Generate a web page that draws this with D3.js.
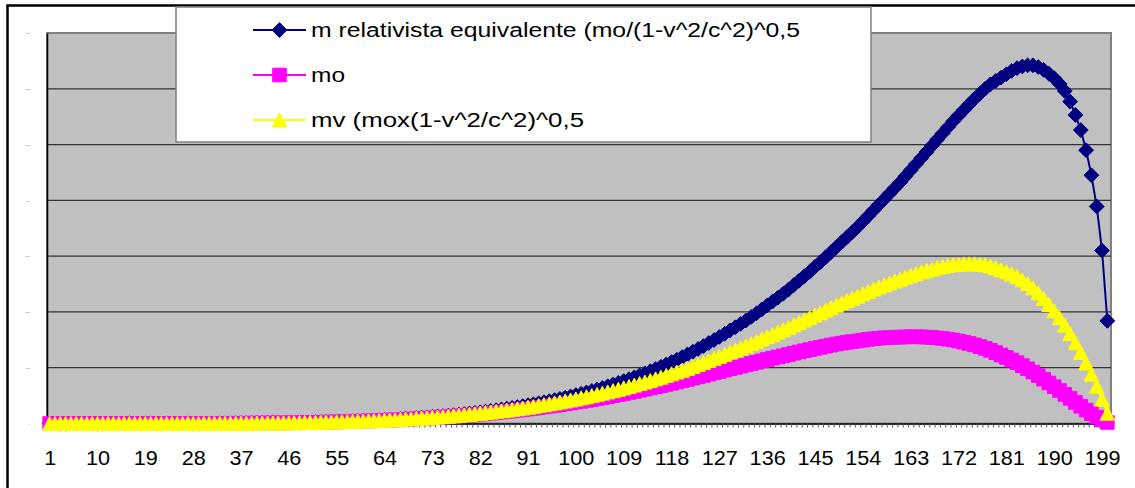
<!DOCTYPE html>
<html><head><meta charset="utf-8">
<script src="https://cdn.jsdelivr.net/npm/d3@7"></script>
<style>
body{margin:0;background:#fff}
svg{display:block}
text{font-family:"Liberation Sans",Arial,sans-serif}
</style>
</head><body>
<svg id="c" width="1135" height="488"></svg>
<script>
// ---------------- DATA ----------------
const categories = d3.range(1, 201);           // 1 .. 200
const labelCategories = [1,10,19,28,37,46,55,64,73,82,91,100,109,118,127,136,145,154,163,172,181,190,199];
const seriesNames = [
  "m relativista equivalente (mo/(1-v^2/c^2)^0,5",
  "mo",
  "mv (mox(1-v^2/c^2)^0,5"
];
const yTicks = [0,1,2,3,4,5,6,7];
const yTickLabels = ["0","1000","2000","3000","4000","5000","6000","7000"];

const relativista = [
0,0,0,0,0,0,0,0,0,0,
0,0,0,0,0.0001,0.0001,0.0002,0.0002,0.0003,0.0003,
0.0004,0.0005,0.0006,0.0007,0.0008,0.001,0.0012,0.0014,0.0016,0.0019,
0.0022,0.0025,0.0029,0.0033,0.0038,0.0043,0.0049,0.0056,0.0063,0.0071,
0.0079,0.0089,0.0099,0.011,0.0122,0.0135,0.015,0.0165,0.0182,0.020,
0.0219,0.024,0.0262,0.0286,0.0312,0.0339,0.0368,0.040,0.0433,0.0468,
0.0506,0.0545,0.0588,0.0633,0.068,0.073,0.0783,0.084,0.0899,0.0961,
0.1027,0.1096,0.1169,0.1246,0.1326,0.1411,0.15,0.1593,0.1691,0.1793,
0.19,0.2012,0.2129,0.2252,0.238,0.2513,0.2653,0.2798,0.295,0.3108,
0.3272,0.3443,0.3622,0.3807,0.40,0.42,0.441,0.463,0.485,0.508,
0.532,0.557,0.583,0.61,0.638,0.667,0.697,0.728,0.76,0.793,
0.827,0.863,0.899,0.937,0.976,1.016,1.058,1.101,1.145,1.191,
1.238,1.286,1.336,1.388,1.441,1.495,1.552,1.609,1.669,1.725,
1.785,1.845,1.91,1.975,2.045,2.115,2.185,2.255,2.325,2.40,
2.48,2.56,2.64,2.72,2.81,2.89,2.98,3.07,3.16,3.25,
3.34,3.43,3.52,3.62,3.72,3.82,3.92,4.02,4.12,4.22,
4.32,4.43,4.54,4.65,4.76,4.87,4.98,5.09,5.20,5.31,
5.42,5.52,5.62,5.72,5.82,5.91,6.00,6.08,6.14,6.20,
6.26,6.32,6.37,6.40,6.42,6.42,6.39,6.34,6.27,6.19,
6.09,5.96,5.77,5.53,5.26,4.90,4.45,3.89,3.10,1.84
];

const mo = [
0,0,0,0,0,0,0,0,0,0,
0,0,0,0,0.0001,0.0001,0.0002,0.0002,0.0003,0.0003,
0.0004,0.0005,0.0006,0.0007,0.0008,0.001,0.0012,0.0014,0.0016,0.0018,
0.0021,0.0024,0.0028,0.0031,0.0036,0.0041,0.0046,0.0052,0.0059,0.0068,
0.0076,0.0085,0.0095,0.0105,0.0116,0.0128,0.0142,0.0156,0.0171,0.0188,
0.0205,0.0224,0.0244,0.0265,0.0289,0.0313,0.0338,0.0367,0.0396,0.0426,
0.0459,0.0493,0.053,0.0569,0.0609,0.0651,0.0696,0.0744,0.0793,0.0844,
0.0899,0.0955,0.1015,0.1077,0.1141,0.1209,0.128,0.1353,0.143,0.1509,
0.1591,0.1677,0.1766,0.1859,0.1955,0.2053,0.2156,0.2262,0.2372,0.2485,
0.2601,0.2722,0.2847,0.2974,0.3106,0.3242,0.3383,0.3529,0.3673,0.3823,
0.3977,0.4136,0.4299,0.4467,0.4639,0.4815,0.4995,0.5178,0.5365,0.5555,
0.5748,0.595,0.6149,0.6356,0.6565,0.6776,0.6995,0.7216,0.7437,0.7665,
0.7894,0.8122,0.8357,0.8598,0.8837,0.9075,0.9324,0.9565,0.9815,1.0034,
1.0268,1.0493,1.0737,1.0972,1.1225,1.1467,1.1699,1.1921,1.2131,1.2357,
1.2596,1.2823,1.3038,1.3239,1.3476,1.3652,1.3861,1.4055,1.4235,1.44,
1.455,1.4685,1.4804,1.495,1.5078,1.519,1.5284,1.536,1.5419,1.546,
1.5483,1.5523,1.5544,1.5544,1.5524,1.5484,1.5423,1.5341,1.5239,1.5116,
1.4972,1.4779,1.4567,1.4335,1.4083,1.3787,1.3473,1.3118,1.2706,1.2278,
1.1838,1.1384,1.0898,1.0368,0.9814,0.9225,0.8591,0.7936,0.7263,0.659,
0.5909,0.5218,0.4502,0.3785,0.3093,0.2407,0.1754,0.1153,0.0614,0.0183
];

const mv = [
0,0,0,0,0,0,0,0,0,0,
0,0,0,0,0.0001,0.0001,0.0002,0.0002,0.0003,0.0003,
0.0004,0.0005,0.0006,0.0007,0.0008,0.001,0.0012,0.0014,0.0016,0.0019,
0.0022,0.0025,0.0028,0.0032,0.0037,0.0042,0.0048,0.0054,0.0061,0.0069,
0.0077,0.0087,0.0097,0.0107,0.0119,0.0131,0.0146,0.016,0.0177,0.0194,
0.0212,0.0232,0.0253,0.0276,0.030,0.0326,0.0353,0.0383,0.0414,0.0447,
0.0482,0.0518,0.0558,0.060,0.0644,0.069,0.0738,0.079,0.0844,0.0901,
0.0961,0.1023,0.1089,0.1159,0.123,0.1306,0.1386,0.1468,0.1555,0.1645,
0.1739,0.1837,0.1939,0.2046,0.2157,0.2271,0.2392,0.2516,0.2645,0.2779,
0.2917,0.3061,0.3211,0.3365,0.3525,0.369,0.3862,0.4042,0.4221,0.4407,
0.46,0.48,0.5006,0.522,0.544,0.5667,0.59,0.614,0.6385,0.6637,
0.6895,0.7166,0.7435,0.7717,0.8005,0.8297,0.8603,0.8913,0.9228,0.9555,
0.9886,1.022,1.0566,1.0924,1.1284,1.1648,1.203,1.2406,1.2799,1.3156,
1.3538,1.3914,1.4321,1.4721,1.5151,1.5574,1.5988,1.6395,1.6794,1.7221,
1.7674,1.8118,1.8553,1.8977,1.946,1.9863,2.0324,2.0773,2.1209,2.1633,
2.2045,2.2443,2.2828,2.3264,2.3683,2.4089,2.4477,2.4849,2.5205,2.5542,
2.5863,2.6224,2.6565,2.6885,2.7183,2.746,2.7714,2.7944,2.815,2.8331,
2.8486,2.8563,2.8613,2.8635,2.8629,2.8545,2.8432,2.8242,2.7931,2.7591,
2.7222,2.6823,2.6348,2.5759,2.5101,2.4336,2.3431,2.2431,2.134,2.0197,
1.897,1.7635,1.6117,1.4467,1.2756,1.0861,0.8834,0.6696,0.4362,0.1834
];

const colors = ["#000080", "#FF00FF", "#FFFF00"];
const seriesData = [relativista, mo, mv];

// ---------------- LAYOUT ----------------
const svg = d3.select("#c");
const plot = {l: 47, r: 1111, t: 33, b: 423.5};

// outer chart border (only left and top edges fall inside the picture)
svg.append("rect").attr("x", 7.5).attr("y", 5.5).attr("width", 1200).attr("height", 600)
  .attr("fill", "#fff").attr("stroke", "#000").attr("stroke-width", 2.5);

const x = d3.scalePoint().domain(categories).range([plot.l, 1110]).padding(0.5);
const xb = d3.scaleLinear().domain([0, categories.length]).range([plot.l, 1110]);
const y = d3.scaleLinear().domain([0, 7]).range([plot.b, plot.t]);

// plot area
svg.append("rect").attr("x", plot.l).attr("y", plot.t)
  .attr("width", plot.r - plot.l).attr("height", plot.b - plot.t)
  .attr("fill", "#C0C0C0").attr("stroke", "#808080").attr("stroke-width", 2);

// gridlines
svg.append("g").selectAll("line").data(yTicks.filter(d => d > 0 && d < 7)).join("line")
  .attr("x1", plot.l).attr("x2", plot.r)
  .attr("y1", d => y(d)).attr("y2", d => y(d))
  .attr("stroke", "#333").attr("stroke-width", 1.2);

// y axis (tiny labels)
const yAxis = svg.append("g").attr("transform", `translate(${plot.l},0)`)
  .call(d3.axisLeft(y).tickValues(yTicks).tickSize(0).tickPadding(17)
    .tickFormat((d, i) => yTickLabels[i]));
yAxis.select(".domain").attr("stroke", "#000").attr("stroke-width", 1.5);
yAxis.selectAll("text").attr("font-size", 2.2).attr("fill", "#777");

// x axis: tick marks between categories
const xTicks = svg.append("g").attr("transform", `translate(0,${plot.b})`)
  .call(d3.axisBottom(xb).tickValues(d3.range(0, categories.length + 1)).tickSize(4).tickFormat(""));
xTicks.select(".domain").attr("stroke", "#000").attr("stroke-width", 1.5);
xTicks.selectAll(".tick line").attr("stroke", "#555").attr("stroke-width", 1);

// x axis: labels
const xLab = svg.append("g").attr("transform", `translate(0,${plot.b})`)
  .call(d3.axisBottom(x).tickValues(labelCategories).tickSize(0).tickPadding(0));
xLab.select(".domain").remove();
xLab.selectAll("text").attr("font-size", 19.5).attr("fill", "#000")
  .attr("y", 42).attr("dy", 0).attr("transform", "scale(1.11,1)");

// markers
function markerPath(k) {
  if (k === 0) return "M0,-7.4L7.4,0L0,7.4L-7.4,0Z";
  if (k === 1) return "M-6.8,-6.8H6.8V6.8H-6.8Z";
  return "M0,-7L7.2,7H-7.2Z";
}

const line = d3.line().x(d => x(d.c)).y(d => y(d.v));
seriesData.forEach((vals, k) => {
  const pts = categories.map((c, i) => ({c, v: vals[i]}));
  const g = svg.append("g");
  g.append("path").attr("d", line(pts)).attr("fill", "none")
    .attr("stroke", colors[k]).attr("stroke-width", 2);
  g.selectAll("path.m").data(pts).join("path").attr("class", "m")
    .attr("d", markerPath(k))
    .attr("transform", d => `translate(${x(d.c)},${y(d.v)})`)
    .attr("fill", colors[k]).attr("stroke", colors[k]).attr("stroke-width", 1);
});

// legend
const leg = svg.append("g");
leg.append("rect").attr("x", 176).attr("y", 7).attr("width", 695).attr("height", 135)
  .attr("fill", "#fff").attr("stroke", "#808080").attr("stroke-width", 1.5);
const rowY = [30, 75, 120];
const textLen = [489, 34, 273];
seriesNames.forEach((name, k) => {
  leg.append("line").attr("x1", 253).attr("x2", 306).attr("y1", rowY[k]).attr("y2", rowY[k])
    .attr("stroke", colors[k]).attr("stroke-width", 2);
  leg.append("path").attr("d", markerPath(k)).attr("transform", `translate(279.5,${rowY[k]})`)
    .attr("fill", colors[k]).attr("stroke", colors[k]).attr("stroke-width", 1);
  leg.append("text").attr("x", 311).attr("y", rowY[k] + 6.8).attr("font-size", 19.5)
    .attr("textLength", textLen[k]).attr("lengthAdjust", "spacingAndGlyphs")
    .attr("fill", "#000").text(name);
});
</script>
</body></html>
